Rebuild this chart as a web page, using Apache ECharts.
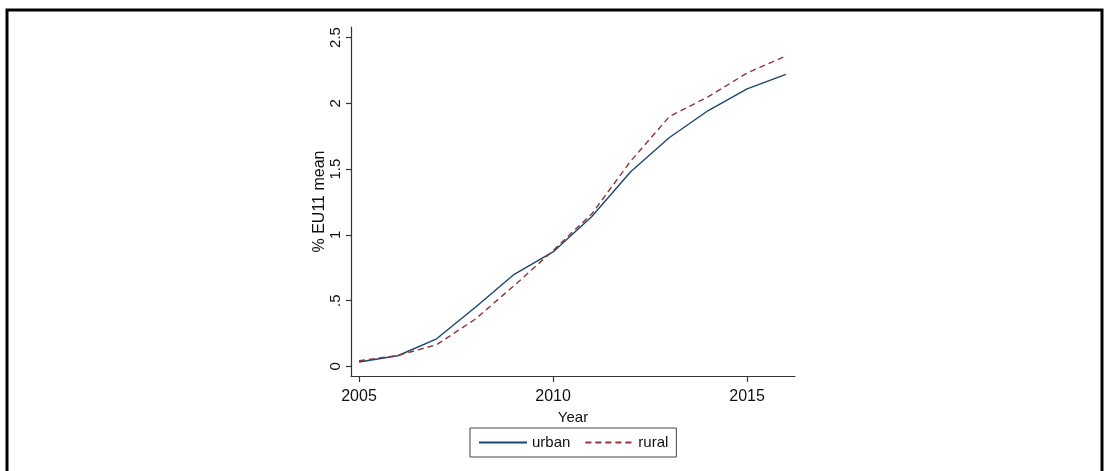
<!DOCTYPE html>
<html>
<head>
<meta charset="utf-8">
<script src="https://cdn.jsdelivr.net/npm/echarts@6/dist/echarts.min.js"></script>
<style>
html,body{margin:0;padding:0;background:#fff;}
#chart{width:1104px;height:471px;}
</style>
</head>
<body>
<div id="chart"></div>
<script>
const years = [2005, 2006, 2007, 2008, 2009, 2010, 2011, 2012, 2013, 2014, 2015, 2016];
const urban = [0.033, 0.081, 0.21, 0.45, 0.70, 0.87, 1.14, 1.48, 1.74, 1.945, 2.11, 2.22];
const rural = [0.043, 0.083, 0.165, 0.36, 0.615, 0.88, 1.16, 1.56, 1.90, 2.05, 2.23, 2.36];
const xTicks = [2005, 2010, 2015];
const yTicks = [0, 0.5, 1, 1.5, 2, 2.5];
const yTickLabels = ['0', '.5', '1', '1.5', '2', '2.5'];

const FONT = '"Liberation Sans", Arial, sans-serif';
const chart = echarts.init(document.getElementById('chart'), null, {renderer: 'canvas'});

chart.setOption({
  animation: false,
  backgroundColor: '#fff',
  grid: {left: 351, right: 309, top: 27, bottom: 95, containLabel: false},
  graphic: [{
    type: 'rect',
    shape: {x: 7, y: 10, width: 1095, height: 500},
    style: {fill: 'none', stroke: '#000', lineWidth: 3},
    silent: true
  }],
  legend: {
    left: 470, top: 428,
    orient: 'horizontal',
    padding: [7, 8, 7, 8],
    borderColor: '#444',
    borderWidth: 1,
    itemWidth: 48,
    itemHeight: 14,
    itemGap: 14,
    itemStyle: {opacity: 0},
    textStyle: {fontFamily: FONT, fontSize: 15, color: '#111'},
    data: ['urban', 'rural']
  },
  xAxis: {
    type: 'value',
    min: 2004.794, max: 2016.235,
    name: 'Year',
    nameLocation: 'middle',
    nameGap: 25,
    nameTextStyle: {fontFamily: FONT, fontSize: 15, color: '#111'},
    axisLine: {show: true, onZero: false, lineStyle: {color: '#333', width: 1.2}},
    axisTick: {show: true, length: 6, customValues: xTicks, lineStyle: {color: '#333', width: 1.2}},
    axisLabel: {customValues: xTicks, margin: 13, fontFamily: FONT, fontSize: 16, color: '#111',
      formatter: v => String(Math.round(v))},
    splitLine: {show: false}
  },
  yAxis: {
    type: 'value',
    min: -0.073, max: 2.58,
    name: '% EU11 mean',
    nameLocation: 'middle',
    nameGap: 20,
    nameRotate: 90,
    nameTextStyle: {fontFamily: FONT, fontSize: 16, color: '#111'},
    axisLine: {show: true, onZero: false, lineStyle: {color: '#333', width: 1.2}},
    axisTick: {show: true, length: 5, customValues: yTicks, lineStyle: {color: '#333', width: 1.2}},
    axisLabel: {customValues: yTicks, rotate: 90, margin: 8, fontFamily: FONT, fontSize: 15, color: '#111',
      formatter: v => yTickLabels[yTicks.findIndex(t => Math.abs(t - v) < 1e-6)] || ''},
    splitLine: {show: false}
  },
  series: [
    {
      name: 'urban', type: 'line', symbol: 'none',
      data: years.map((y, i) => [y, urban[i]]),
      lineStyle: {color: '#1a476f', width: 1.4},
      itemStyle: {color: '#1a476f'}
    },
    {
      name: 'rural', type: 'line', symbol: 'none',
      data: years.map((y, i) => [y, rural[i]]),
      lineStyle: {color: '#90353b', width: 1.4, type: [6, 4]},
      itemStyle: {color: '#90353b'}
    }
  ]
});
</script>
</body>
</html>
